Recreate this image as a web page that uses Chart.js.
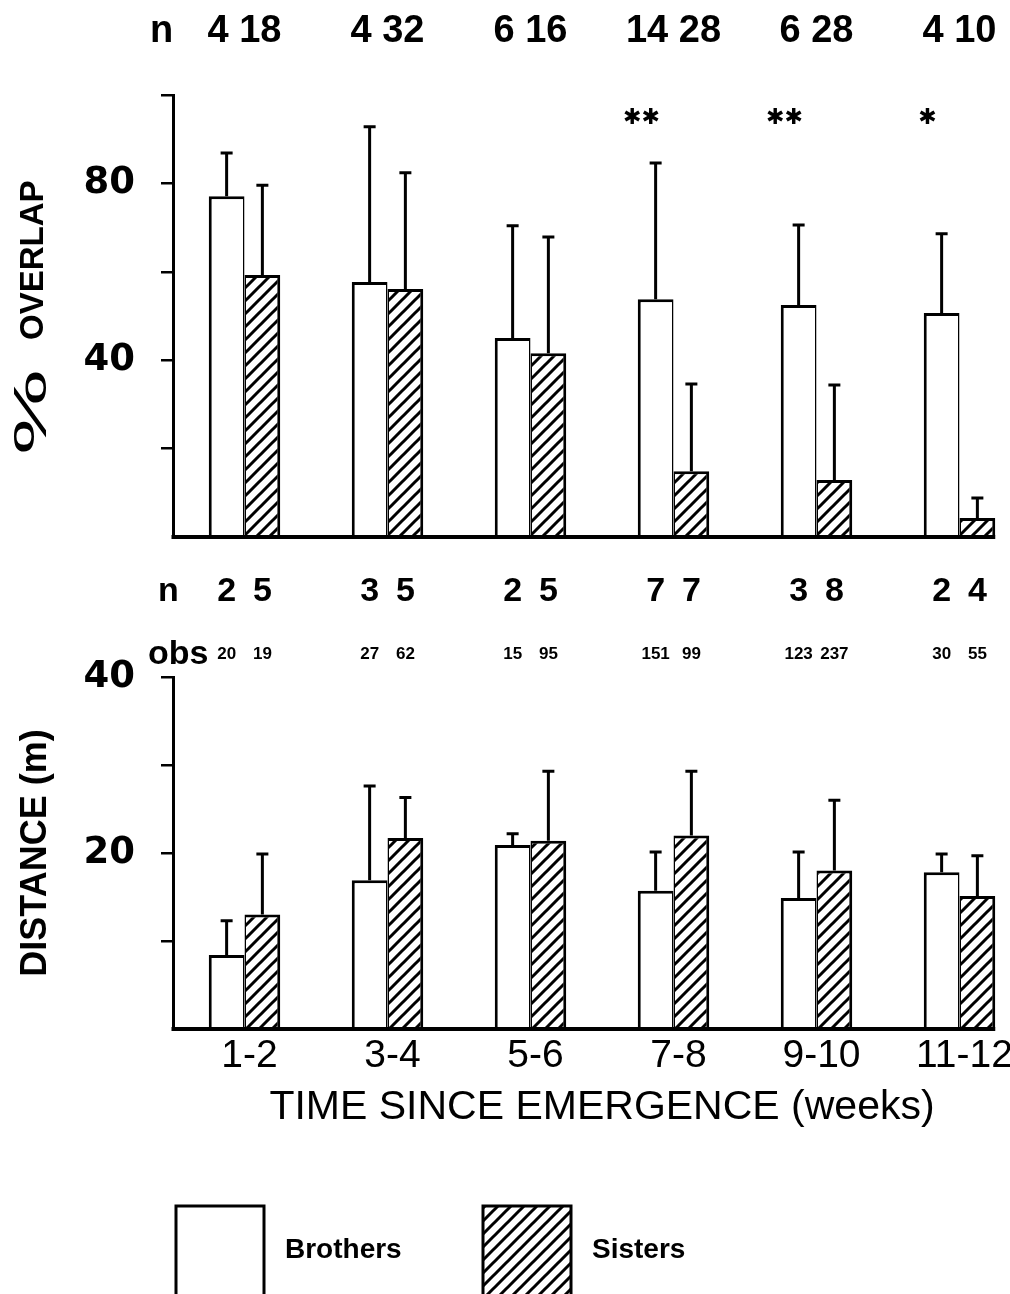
<!DOCTYPE html>
<html lang="en">
<head>
  <meta charset="UTF-8" />
  <title>Overlap and distance: brothers and sisters</title>
  <script src="https://cdn.jsdelivr.net/npm/chart.js"></script>
  <style>
    html, body {
      margin: 0;
      padding: 0;
      background: #fff;
      overflow: hidden;
    }
    body {
      position: relative;
      width: 1010px;
      height: 1294px;
    }
    .panel {
      position: absolute;
      left: 0;
    }
    #overlapPanel { top: 0; }
    #distancePanel { top: 560px; }
    canvas { display: block; }
  </style>
</head>
<body>
  <div class="panel" id="overlapPanel"><canvas id="overlapChart" width="1040" height="560"></canvas></div>
  <div class="panel" id="distancePanel"><canvas id="distanceChart" width="1040" height="734"></canvas></div>

  <script>
    const weeks = ['1-2', '3-4', '5-6', '7-8', '9-10', '11-12'];

    // upper panel: % overlap (mean and top of the error bar)
    const overlapBrothers = [77.1, 57.7, 45.0, 53.8, 52.5, 50.7];
    const overlapBrothersTop = [86.9, 92.8, 70.4, 84.6, 70.6, 68.6];
    const overlapSisters = [59.3, 56.1, 41.6, 14.9, 12.9, 4.3];
    const overlapSistersTop = [79.6, 82.4, 67.9, 34.6, 34.4, 8.8];
    const overlapNBrothers = [4, 4, 6, 14, 6, 4];
    const overlapNSisters = [18, 32, 16, 28, 28, 10];
    const overlapSignif = ['', '', '', '✱✱', '✱✱', '✱'];
    const overlapTickLabels = [40, 80];

    // lower panel: distance (m)
    const distanceBrothers = [8.4, 16.9, 20.9, 15.7, 14.9, 17.8];
    const distanceBrothersTop = [12.3, 27.6, 22.2, 20.1, 20.1, 19.9];
    const distanceSisters = [13.0, 21.7, 21.4, 22.0, 18.0, 15.1];
    const distanceSistersTop = [19.9, 26.3, 29.3, 29.3, 26.0, 19.7];
    const distanceNBrothers = [2, 3, 2, 7, 3, 2];
    const distanceNSisters = [5, 5, 5, 7, 8, 4];
    const obsBrothers = [20, 27, 15, 151, 123, 30];
    const obsSisters = [19, 62, 95, 99, 237, 55];
    const distanceTickLabels = [20, 40];

    const SANS = "'Liberation Sans', Arial, sans-serif";
    const ROUND = "'DejaVu Sans', sans-serif";

    function hatch() {
      const s = 13;
      const c = document.createElement('canvas');
      c.width = s; c.height = s;
      const g = c.getContext('2d');
      g.fillStyle = '#fff';
      g.fillRect(0, 0, s, s);
      g.strokeStyle = '#000';
      g.lineWidth = 3;
      g.beginPath();
      g.moveTo(-2, 2); g.lineTo(2, -2);
      g.moveTo(-2, s + 2); g.lineTo(s + 2, -2);
      g.moveTo(s - 2, s + 2); g.lineTo(s + 2, s - 2);
      g.stroke();
      return g.createPattern(c, 'repeat');
    }
    const hatchFill = hatch();

    function datasets(brothers, sisters) {
      return [{
        label: 'Brothers',
        data: brothers,
        backgroundColor: '#fff',
        borderColor: '#000',
        borderWidth: { top: 3, left: 3, right: 1.5 },
        borderSkipped: 'start'
      }, {
        label: 'Sisters',
        data: sisters,
        backgroundColor: hatchFill,
        borderColor: '#000',
        borderWidth: { top: 3, left: 1.5, right: 3 },
        borderSkipped: 'start'
      }];
    }

    function yAxis(max, step, shown, title, titleSize) {
      return {
        min: 0,
        max: max,
        afterFit: s => {
          s.width = 173;
          s.paddingTop = 0;
          s.paddingBottom = 0;
        },
        border: { display: true, color: '#000', width: 3 },
        grid: {
          drawOnChartArea: false,
          drawTicks: true,
          tickLength: 12,
          lineWidth: 2.5,
          color: c => (c.tick && c.tick.value === 0) ? 'rgba(0,0,0,0)' : '#000'
        },
        ticks: {
          stepSize: step,
          padding: 26,
          color: '#000',
          font: { family: ROUND, size: 37, weight: 'bold' },
          callback: v => shown.includes(v) ? String(v) : ''
        },
        title: {
          display: !!title,
          text: title,
          color: '#000',
          padding: { top: 14, bottom: 0 },
          font: { family: SANS, size: titleSize, weight: 'bold' }
        }
      };
    }

    // whiskers, the baseline up to the last bar, and the count rows
    function panelMarks(tops, drawText) {
      return {
        id: 'panelMarks',
        afterDatasetsDraw(chart) {
          const ctx = chart.ctx;
          const area = chart.chartArea;
          const y = chart.scales.y;
          const metas = [chart.getDatasetMeta(0), chart.getDatasetMeta(1)];
          ctx.save();
          ctx.strokeStyle = '#000';
          ctx.lineWidth = 3;
          metas.forEach((meta, d) => {
            meta.data.forEach((bar, i) => {
              const yt = y.getPixelForValue(tops[d][i]);
              ctx.beginPath();
              ctx.moveTo(bar.x, bar.y);
              ctx.lineTo(bar.x, yt);
              ctx.moveTo(bar.x - 6, yt);
              ctx.lineTo(bar.x + 6, yt);
              ctx.stroke();
            });
          });
          const last = metas[1].data[metas[1].data.length - 1];
          ctx.lineWidth = 4;
          ctx.beginPath();
          ctx.moveTo(area.left - 1.5, area.bottom);
          ctx.lineTo(last.x + last.width / 2, area.bottom);
          ctx.stroke();
          ctx.fillStyle = '#000';
          drawText(ctx, metas, chart);
          ctx.restore();
        }
      };
    }

    new Chart(document.getElementById('overlapChart'), {
      type: 'bar',
      data: { labels: weeks, datasets: datasets(overlapBrothers, overlapSisters) },
      options: {
        responsive: false,
        animation: false,
        layout: { padding: { top: 95, right: 9, left: 0, bottom: 0 } },
        datasets: { bar: { categoryPercentage: 0.5, barPercentage: 1 } },
        plugins: { legend: { display: false }, tooltip: { enabled: false } },
        scales: {
          x: {
            afterFit: s => { s.height = 23; },
            border: { display: false },
            grid: { display: false, drawTicks: false },
            ticks: { display: false }
          },
          y: yAxis(100, 20, overlapTickLabels, '', 33)
        }
      },
      plugins: [panelMarks([overlapBrothersTop, overlapSistersTop], (ctx, metas, chart) => {
        ctx.textBaseline = 'middle';
        ctx.font = `bold 38px ${SANS}`;
        ctx.textAlign = 'left';
        ctx.fillText('n', 150, 32);
        ctx.textAlign = 'center';
        metas[0].data.forEach((b, i) => {
          const s = metas[1].data[i];
          const cx = (b.x + s.x) / 2;
          ctx.font = `bold 38px ${SANS}`;
          ctx.fillText(`${overlapNBrothers[i]} ${overlapNSisters[i]}`, cx, 32);
          if (overlapSignif[i]) {
            ctx.font = `22px ${ROUND}`;
            ctx.fillText(overlapSignif[i], cx - 32, 118);
          }
        });

        // axis title with the tall per-cent sign
        ctx.save();
        ctx.translate(34, 340);
        ctx.rotate(-Math.PI / 2);
        ctx.textAlign = 'left';
        ctx.font = `bold 33px ${SANS}`;
        ctx.fillText('OVERLAP', 0, 0);
        ctx.restore();
        ctx.save();
        ctx.translate(33, 412);
        ctx.rotate(-Math.PI / 2);
        ctx.scale(2.1, 1);
        ctx.textAlign = 'center';
        ctx.font = `46px ${SANS}`;
        ctx.fillText('%', 0, 0);
        ctx.restore();
      })]
    });

    new Chart(document.getElementById('distanceChart'), {
      type: 'bar',
      data: { labels: weeks, datasets: datasets(distanceBrothers, distanceSisters) },
      options: {
        responsive: false,
        animation: false,
        layout: { padding: { top: 117, right: 9, left: 0, bottom: 0 } },
        datasets: { bar: { categoryPercentage: 0.5, barPercentage: 1 } },
        plugins: { legend: { display: false }, tooltip: { enabled: false } },
        scales: {
          x: {
            afterFit: s => { s.height = 265; },
            border: { display: false },
            grid: { display: false, drawTicks: false, tickLength: 0 },
            ticks: {
              color: '#000',
              padding: 4,
              labelOffset: 5,
              autoSkip: false,
              maxRotation: 0,
              font: { family: SANS, size: 39 }
            },
            title: {
              display: true,
              text: 'TIME SINCE EMERGENCE (weeks)',
              color: '#000',
              padding: { top: 0, bottom: 162 },
              font: { family: SANS, size: 41 }
            }
          },
          y: yAxis(40, 10, distanceTickLabels, 'DISTANCE (m)', 36)
        }
      },
      plugins: [panelMarks([distanceBrothersTop, distanceSistersTop], (ctx, metas, chart) => {
        ctx.textBaseline = 'middle';
        ctx.textAlign = 'left';
        ctx.font = `bold 34px ${SANS}`;
        ctx.fillText('n', 158, 32);
        ctx.textBaseline = 'alphabetic';
        ctx.fillText('obs', 148, 104);
        ctx.textAlign = 'center';
        const counts = [distanceNBrothers, distanceNSisters];
        const obs = [obsBrothers, obsSisters];
        metas.forEach((meta, d) => {
          meta.data.forEach((b, i) => {
            ctx.textBaseline = 'middle';
            ctx.font = `bold 34px ${SANS}`;
            ctx.fillText(String(counts[d][i]), b.x, 32);
            ctx.textBaseline = 'alphabetic';
            ctx.font = `bold 17px ${SANS}`;
            ctx.fillText(String(obs[d][i]), b.x, 99);
          });
        });

        // key: one box per series
        const keyX = [176, 483];
        chart.data.datasets.forEach((ds, d) => {
          const x = keyX[d];
          ctx.fillStyle = ds.backgroundColor;
          ctx.fillRect(x, 646, 88, 100);
          ctx.strokeStyle = '#000';
          ctx.lineWidth = 3;
          ctx.strokeRect(x, 646, 88, 100);
          ctx.fillStyle = '#000';
          ctx.textAlign = 'left';
          ctx.textBaseline = 'middle';
          ctx.font = `bold 28px ${SANS}`;
          ctx.fillText(ds.label, x + 109, 690);
        });
      })]
    });
  </script>
</body>
</html>
